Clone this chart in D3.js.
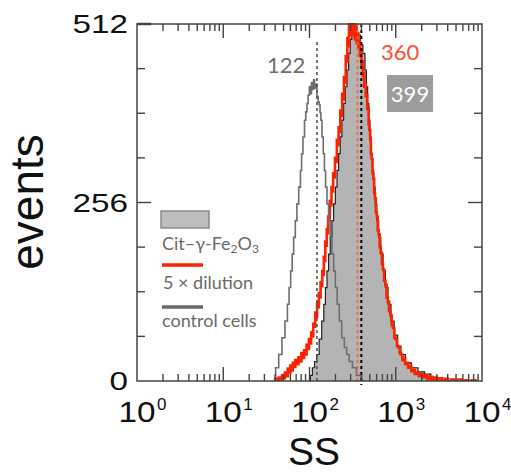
<!DOCTYPE html>
<html>
<head>
<meta charset="utf-8">
<script src="https://cdn.jsdelivr.net/npm/d3@7"></script>
<style>
  html, body { margin: 0; padding: 0; background: #fff; }
  svg { display: block; }
</style>
</head>
<body>
<svg id="chart" width="511" height="473"></svg>
<script>
// ---------- data (SS channel, events) ----------
const controlCells = [
  [39,0],[42,19],[46,38],[50,62],[54,86],[57,110],[59,134],[62,158],[64,182],[67,206],
  [70,230],[73,254],[77,278],[80,302],[82,326],[86,350],[89,374],[92,386],[95,398],[98,410],
  [101,422],[104,412],[107,428],[110,418],[113,432],[116,420],[120,426],[124,408],[128,400],
  [131,396],[134,385],[137,374],[142,350],[147,326],[151,302],[156,278],[163,254],[170,230],
  [178,206],[186,182],[195,158],[204,134],[215,110],[228,86],[245,62],[262,48],[277,38],
  [300,28],[331,19],[370,8],[432,0]
];
const citFe2O3 = [
  [100,0],[105,8],[111,19],[118,28],[125,38],[134,60],[143,86],[150,110],[156,134],[163,158],
  [170,182],[178,206],[186,230],[195,254],[204,278],[213,302],[222,326],[232,350],[243,374],
  [254,398],[266,422],[278,446],[290,470],[303,490],[316,503],[330,498],[345,510],[362,500],
  [380,496],[400,482],[432,470],[448,446],[465,422],[480,398],[494,374],[510,350],[526,326],
  [545,302],[565,278],[590,254],[617,230],[652,206],[692,182],[735,158],[783,134],[845,110],
  [918,86],[1000,66],[1100,50],[1199,38],[1400,26],[1637,19],[2000,13],[2334,10],[2800,5],[3334,0]
];
const dilution5x = [
  [39,0],[41,3],[43,1],[45,5],[47,2],[49,8],[51,4],[53,12],[55,7],[57,18],[59,12],[61,22],
  [63,15],[65,26],[67,20],[70,30],[73,24],[76,34],[79,28],[82,40],[85,33],[88,44],[91,38],
  [94,52],[97,46],[100,60],[103,54],[106,70],[109,64],[112,82],[115,78],[118,98],[121,92],
  [124,112],[127,106],[130,126],[133,120],[136,142],[139,136],[142,158],[145,152],[148,178],
  [151,172],[154,200],[157,194],[160,218],[163,212],[166,236],[170,230],[174,258],[178,252],
  [182,278],[186,272],[190,298],[195,292],[200,320],[205,314],[210,346],[215,338],[220,364],
  [225,357],[230,388],[236,380],[242,412],[248,404],[254,436],[260,428],[266,466],[272,458],
  [278,492],[284,480],[290,512],[297,500],[304,512],[311,496],[318,512],[325,504],[332,512],
  [340,490],[348,506],[356,484],[364,498],[372,478],[380,488],[388,466],[396,474],[404,452],
  [412,458],[420,438],[428,442],[436,422],[444,426],[453,408],[462,410],[471,390],[480,392],
  [490,368],[500,360],[510,346],[520,326],[532,318],[544,298],[556,290],[568,270],[580,262],
  [595,242],[610,236],[626,216],[642,210],[660,192],[680,184],[700,168],[722,160],[745,144],
  [770,138],[796,120],[823,114],[852,100],[882,94],[913,80],[946,76],[980,62],[1015,60],
  [1052,50],[1090,48],[1130,40],[1170,38],[1215,30],[1260,32],[1310,24],[1360,26],[1420,19],
  [1480,21],[1550,14],[1620,16],[1700,10],[1800,12],[1900,7],[2000,10],[2120,5],[2250,8],
  [2400,3],[2550,6],[2720,2],[2900,5],[3100,1],[3350,4],[3600,1],[3900,3],[4200,0],[4600,2],
  [5000,0],[5500,2],[6000,0],[6600,1],[7300,0],[8000,1],[8800,0]
];
const meanValues = [122, 360, 399];           // control, 5x dilution, Cit-γ-Fe2O3
const yTickValues = [0, 256, 512];
const yMinorValues = [64, 128, 192, 320, 384, 448];
const xDecades = [1, 10, 100, 1000, 10000];
const xExponents = ["0", "1", "2", "3", "4"];

// ---------- setup ----------
const svg = d3.select("#chart");
const L = 137, R = 482, T = 24, B = 381;
const x = d3.scaleLog().domain([1, 1e4]).range([L, R]);
const y = d3.scaleLinear().domain([0, 512]).range([B, T]);

const RED = "#ff2200";
const CTRL = "#6e6e6e";
const sansA = "'Liberation Sans', Arial, sans-serif";
const sansG = "Lato, 'Open Sans', sans-serif";

svg.append("defs").append("clipPath").attr("id", "plotclip")
  .append("rect").attr("x", L).attr("y", T - 1).attr("width", R - L).attr("height", B - T + 1);

const plot = svg.append("g").attr("clip-path", "url(#plotclip)");

const area = d3.area().x(d => x(d[0])).y0(y(0)).y1(d => y(d[1])).curve(d3.curveStep);
const line = d3.line().x(d => x(d[0])).y(d => y(d[1])).curve(d3.curveStep);

// treated filled histogram
plot.append("path").datum(citFe2O3).attr("d", area).attr("fill", "#b4b4b4");
plot.append("path").datum(citFe2O3).attr("d", line)
  .attr("fill", "none").attr("stroke", "#222").attr("stroke-width", 1.2);
// 5x dilution
plot.append("path").datum(dilution5x).attr("d", line)
  .attr("fill", "none").attr("stroke", RED).attr("stroke-width", 2.6);
// control
plot.append("path").datum(controlCells).attr("d", line)
  .attr("fill", "none").attr("stroke", CTRL).attr("stroke-width", 1.6);

// mean lines
svg.append("line").attr("x1", x(meanValues[0])).attr("x2", x(meanValues[0]))
  .attr("y1", 42).attr("y2", y(0)).attr("stroke", "#555").attr("stroke-width", 1.6)
  .attr("stroke-dasharray", "3,3");
svg.append("line").attr("x1", x(meanValues[1])).attr("x2", x(meanValues[1]))
  .attr("y1", T).attr("y2", y(0) + 3).attr("stroke", "#ff6040").attr("stroke-width", 1.8)
  .attr("stroke-dasharray", "3,3");
svg.append("line").attr("x1", x(meanValues[2])).attr("x2", x(meanValues[2]))
  .attr("y1", T).attr("y2", y(0) + 4).attr("stroke", "#000").attr("stroke-width", 2)
  .attr("stroke-dasharray", "3,3");

// ---------- frame and ticks ----------
const axisCol = "#444";
svg.append("rect").attr("x", L).attr("y", T).attr("width", R - L).attr("height", B - T)
  .attr("fill", "none").attr("stroke", axisCol).attr("stroke-width", 1.5);

const xTicks = x.ticks();
xTicks.forEach(v => {
  const isMajor = Math.abs(Math.log10(v) - Math.round(Math.log10(v))) < 1e-9;
  const len = isMajor ? 14 : 7;
  if (v === 1 || v === 1e4) return;
  svg.append("line").attr("x1", x(v)).attr("x2", x(v)).attr("y1", B).attr("y2", B - len)
    .attr("stroke", axisCol).attr("stroke-width", 1.4);
  svg.append("line").attr("x1", x(v)).attr("x2", x(v)).attr("y1", T).attr("y2", T + len)
    .attr("stroke", axisCol).attr("stroke-width", 1.4);
});
yMinorValues.concat([256]).forEach(v => {
  const len = v === 256 ? 14 : 8;
  svg.append("line").attr("x1", L).attr("x2", L + len).attr("y1", y(v)).attr("y2", y(v))
    .attr("stroke", axisCol).attr("stroke-width", 1.4);
  svg.append("line").attr("x1", R).attr("x2", R - len).attr("y1", y(v)).attr("y2", y(v))
    .attr("stroke", axisCol).attr("stroke-width", 1.4);
});
svg.append("line").attr("x1", L).attr("x2", L + 14).attr("y1", T).attr("y2", T)
  .attr("stroke", axisCol).attr("stroke-width", 2.5);

// y tick labels
yTickValues.forEach(v => {
  const s = String(v);
  svg.append("text").attr("x", 128).attr("y", y(v) + 9).attr("text-anchor", "end")
    .attr("font-family", sansA).attr("font-size", 25).attr("fill", "#111")
    .attr("textLength", s.length * 18.5).attr("lengthAdjust", "spacingAndGlyphs")
    .text(s);
});
// x tick labels
xDecades.forEach((v, i) => {
  const cx = x(v);
  svg.append("text").attr("x", cx).attr("y", 422).attr("text-anchor", "middle")
    .attr("font-family", sansA).attr("font-size", 30).attr("fill", "#111")
    .attr("textLength", 37).attr("lengthAdjust", "spacingAndGlyphs").text("10");
  svg.append("text").attr("x", cx + 20).attr("y", 410)
    .attr("font-family", sansA).attr("font-size", 17).attr("fill", "#111")
    .text(xExponents[i]);
});

// axis titles
svg.append("text").attr("x", 314).attr("y", 465).attr("text-anchor", "middle")
  .attr("font-family", sansA).attr("font-size", 39).attr("fill", "#111").text("SS");
svg.append("text").attr("transform", "translate(43,202) rotate(-90)")
  .attr("text-anchor", "middle").attr("font-family", sansA).attr("font-size", 46)
  .attr("fill", "#111").text("events");

// ---------- annotations ----------
svg.append("text").attr("x", 267).attr("y", 73).attr("font-family", sansG)
  .attr("font-size", 22).attr("fill", "#6e6e6e").text(String(meanValues[0]));
svg.append("text").attr("x", 381).attr("y", 60).attr("font-family", sansG)
  .attr("font-size", 22).attr("fill", "#ff4d2e").text(String(meanValues[1]));
svg.append("rect").attr("x", 387).attr("y", 75).attr("width", 46).attr("height", 37)
  .attr("fill", "#9c9c9c");
svg.append("text").attr("x", 410).attr("y", 102).attr("text-anchor", "middle")
  .attr("font-family", sansG).attr("font-size", 22).attr("fill", "#fff")
  .text(String(meanValues[2]));

// ---------- legend ----------
const lg = svg.append("g");
const legCol = "#6a6a6a";
lg.append("rect").attr("x", 161).attr("y", 211).attr("width", 48).attr("height", 17)
  .attr("fill", "#bdbdbd").attr("stroke", "#8a8a8a").attr("stroke-width", 1.5);
const t1 = lg.append("text").attr("x", 162).attr("y", 250).attr("font-family", sansG)
  .attr("font-size", 18).attr("fill", legCol);
t1.append("tspan").text("Cit–γ-Fe");
t1.append("tspan").attr("font-size", 12).attr("dy", 3).text("2");
t1.append("tspan").attr("dy", -3).text("O");
t1.append("tspan").attr("font-size", 12).attr("dy", 3).text("3");

lg.append("line").attr("x1", 162).attr("x2", 203).attr("y1", 265).attr("y2", 265)
  .attr("stroke", RED).attr("stroke-width", 3.5);
lg.append("text").attr("x", 163).attr("y", 289).attr("font-family", sansG)
  .attr("font-size", 18).attr("fill", legCol).text("5 × dilution");

lg.append("line").attr("x1", 162).attr("x2", 203).attr("y1", 307).attr("y2", 307)
  .attr("stroke", legCol).attr("stroke-width", 3.5);
lg.append("text").attr("x", 162).attr("y", 327).attr("font-family", sansG)
  .attr("font-size", 18).attr("fill", legCol).text("control cells");
</script>
</body>
</html>
